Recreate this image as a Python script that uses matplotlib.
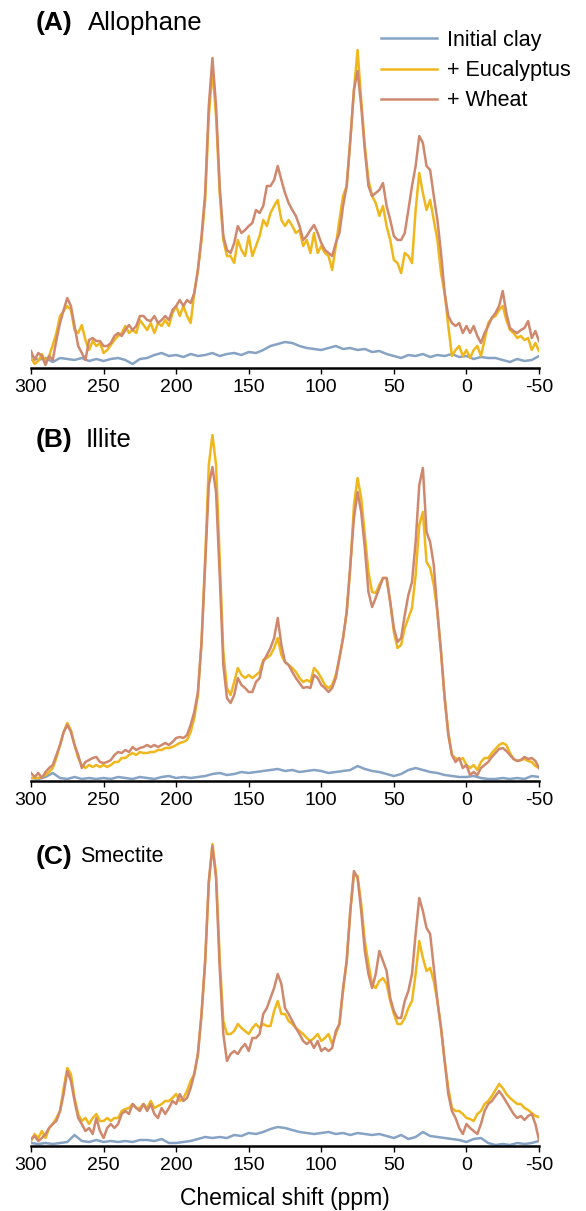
import numpy as np
import matplotlib
matplotlib.use("Agg")
import matplotlib.pyplot as plt

plt.rcParams['font.family'] = ['Liberation Sans', 'DejaVu Sans']

# chemical shift grid (ppm), spectra (arbitrary intensity)
ppm = np.arange(300, -50.1, -2.5)
ppm_clay = np.arange(300, -50.1, -5)

allo_clay = [12, 8, 10, 6, 10, 9, 8, 10, 7, 9,
             7, 9, 10, 8, 4, 9, 10, 13, 15, 12,
             13, 11, 14, 12, 13, 15, 12, 14, 15, 13,
             16, 15, 18, 22, 24, 26, 25, 22, 20, 19,
             18, 20, 22, 19, 20, 18, 19, 16, 17, 14,
             12, 10, 13, 12, 14, 11, 13, 12, 14, 11,
             12, 9, 11, 10, 10, 8, 6, 9, 7, 8,
             12]
allo_euc = [10, 4, 7, 14, 6, 12, 23, 35, 52, 57, 62, 58,
            38, 35, 43, 28, 18, 27, 22, 25, 15, 18, 23, 28,
            32, 35, 42, 35, 38, 35, 48, 43, 38, 45, 35, 45,
            42, 48, 42, 55, 62, 52, 62, 52, 45, 75, 98, 128,
            168, 252, 298, 252, 175, 128, 112, 112, 105, 128, 118, 112,
            132, 112, 122, 132, 148, 142, 155, 162, 168, 148, 142, 148,
            142, 135, 138, 122, 128, 115, 135, 115, 122, 115, 112, 98,
            122, 148, 172, 182, 228, 278, 318, 268, 222, 188, 172, 165,
            152, 162, 142, 128, 108, 105, 95, 115, 112, 105, 158, 195,
            175, 158, 168, 148, 128, 95, 75, 42, 12, 18, 22, 12,
            18, 10, 18, 22, 12, 28, 45, 50, 52, 58, 62, 48,
            38, 35, 30, 32, 28, 30, 18, 25, 17]
allo_wheat = [17, 8, 15, 12, 3, 12, 8, 28, 45, 58, 70, 62,
              42, 22, 15, 8, 28, 30, 27, 27, 22, 22, 25, 32,
              35, 32, 38, 43, 38, 42, 52, 52, 48, 47, 52, 45,
              48, 52, 48, 58, 62, 68, 62, 68, 65, 75, 98, 132,
              175, 262, 310, 262, 182, 132, 118, 115, 125, 142, 135, 138,
              142, 145, 158, 155, 162, 182, 182, 188, 202, 188, 175, 165,
              158, 152, 142, 128, 132, 138, 143, 135, 125, 118, 115, 112,
              125, 135, 162, 182, 228, 278, 297, 262, 218, 182, 172, 175,
              178, 185, 162, 148, 132, 128, 128, 135, 158, 182, 202, 232,
              225, 202, 198, 172, 148, 115, 75, 52, 45, 42, 45, 35,
              42, 35, 42, 32, 25, 35, 42, 50, 55, 62, 77, 55,
              40, 37, 35, 38, 40, 47, 30, 37, 27]

illite_clay = [3, 2, 4, 8, 3, 2, 4, 2, 3, 2,
               3, 2, 4, 3, 2, 4, 3, 2, 4, 5,
               3, 4, 3, 4, 5, 7, 8, 6, 7, 9,
               8, 9, 10, 11, 12, 10, 11, 9, 10, 11,
               10, 8, 9, 10, 11, 15, 12, 10, 9, 7,
               5, 7, 11, 13, 11, 9, 8, 6, 5, 4,
               4, 5, 3, 2, 2, 3, 2, 3, 2, 5,
               4]
illite_euc = [3, 3, 3, 4, 6, 9, 13, 23, 36, 49, 58, 51,
              36, 23, 16, 13, 16, 14, 16, 14, 16, 14, 16, 19,
              19, 23, 23, 26, 28, 26, 29, 28, 28, 29, 29, 31,
              31, 33, 33, 34, 36, 38, 39, 41, 49, 63, 86, 139,
              223, 316, 346, 316, 223, 129, 93, 86, 99, 113, 106, 103,
              106, 103, 106, 109, 121, 123, 126, 133, 143, 126, 119, 116,
              113, 109, 103, 99, 101, 99, 113, 109, 103, 96, 93, 96,
              106, 123, 143, 169, 213, 276, 303, 283, 246, 209, 189, 188,
              196, 203, 203, 179, 149, 133, 136, 153, 163, 173, 206, 256,
              269, 219, 213, 196, 169, 129, 83, 49, 26, 23, 21, 23,
              16, 13, 16, 11, 19, 23, 23, 28, 32, 36, 38, 36,
              28, 22, 20, 21, 22, 20, 19, 15, 13]
illite_wheat = [8, 4, 8, 3, 9, 13, 16, 26, 36, 49, 56, 49,
                36, 26, 13, 19, 21, 23, 24, 19, 18, 19, 21, 26,
                29, 28, 31, 29, 34, 31, 33, 34, 36, 34, 36, 34,
                36, 38, 36, 39, 43, 44, 43, 46, 56, 69, 89, 139,
                216, 296, 314, 289, 206, 116, 83, 78, 86, 103, 96, 93,
                89, 89, 99, 103, 119, 126, 133, 143, 163, 136, 119, 116,
                109, 103, 98, 93, 94, 93, 106, 103, 96, 93, 89, 93,
                103, 123, 143, 169, 216, 263, 289, 269, 233, 189, 174, 183,
                193, 203, 203, 179, 153, 139, 143, 166, 186, 199, 239, 296,
                313, 249, 239, 216, 169, 129, 83, 46, 26, 19, 23, 13,
                16, 6, 9, 6, 13, 16, 19, 24, 28, 32, 33, 30,
                26, 22, 20, 21, 24, 22, 23, 20, 13]

smec_clay = [3, 2, 3, 2, 3, 4, 11, 5, 4, 6,
             4, 5, 4, 5, 4, 6, 6, 5, 7, 3,
             3, 4, 5, 7, 9, 8, 9, 8, 11, 10,
             13, 12, 14, 17, 19, 18, 16, 14, 13, 12,
             13, 14, 12, 13, 11, 13, 12, 11, 12, 10,
             8, 11, 7, 9, 14, 10, 9, 8, 7, 6,
             4, 7, 8, 3, 1, 2, 1, 3, 2, 3,
             5]
smec_euc = [5, 12, 8, 15, 8, 18, 22, 28, 35, 58, 78, 72,
            48, 32, 25, 28, 22, 28, 32, 25, 25, 28, 25, 28,
            28, 35, 37, 38, 42, 38, 38, 42, 38, 45, 38, 40,
            42, 45, 45, 48, 52, 45, 48, 55, 65, 72, 92, 132,
            185, 262, 302, 272, 188, 125, 112, 112, 115, 122, 118, 115,
            112, 118, 122, 118, 122, 120, 120, 135, 145, 132, 132, 125,
            122, 118, 115, 112, 108, 105, 108, 112, 105, 108, 112, 102,
            112, 122, 155, 185, 235, 272, 270, 242, 205, 182, 162, 158,
            165, 168, 162, 145, 132, 122, 122, 128, 138, 145, 172, 205,
            188, 175, 178, 165, 145, 118, 85, 58, 38, 35, 35, 32,
            28, 27, 25, 32, 35, 42, 45, 50, 56, 62, 58, 52,
            48, 45, 42, 42, 38, 36, 33, 30, 29]
smec_wheat = [7, 10, 5, 8, 12, 18, 22, 25, 35, 52, 75, 65,
              45, 28, 22, 15, 18, 12, 28, 15, 8, 18, 22, 18,
              22, 32, 35, 32, 42, 38, 35, 42, 35, 42, 32, 28,
              38, 32, 38, 45, 42, 52, 45, 48, 58, 72, 92, 132,
              185, 265, 300, 268, 178, 112, 85, 92, 95, 92, 98, 102,
              95, 108, 108, 112, 132, 138, 148, 158, 172, 162, 138, 132,
              125, 118, 112, 105, 102, 105, 98, 105, 95, 98, 95, 98,
              115, 122, 158, 185, 235, 275, 268, 235, 195, 172, 158, 172,
              195, 185, 175, 148, 135, 128, 128, 145, 155, 172, 212, 248,
              235, 218, 212, 178, 145, 118, 85, 52, 35, 28, 18, 12,
              22, 18, 15, 12, 22, 35, 42, 45, 50, 55, 50, 44,
              38, 32, 28, 30, 26, 30, 32, 22, 6]

panels = [
    ["(A)", "Allophane", 18.5, allo_clay, allo_euc, allo_wheat],
    ["(B)", "Illite", 18.5, illite_clay, illite_euc, illite_wheat],
    ["(C)", "Smectite", 15.5, smec_clay, smec_euc, smec_wheat],
]
labels = ["Initial clay", "+ Eucalyptus", "+ Wheat"]
colors = ['#87a3c4', '#f0b71c', '#cf886d']

W, H = 586, 1211
# axis baseline (px from top) and plotted height (px) for each panel
bases = [368, 781, 1146]
heights = [330, 360, 320]

fig = plt.figure(figsize=(W / 100, H / 100), dpi=100)
axes = []
for i, p in enumerate(panels):
    ax = fig.add_axes([31 / W, (H - bases[i]) / H, 508 / W, heights[i] / H])
    ax.plot(ppm_clay, p[3], color=colors[0], lw=1.8, label=labels[0])
    ax.plot(ppm, p[4], color=colors[1], lw=1.8, label=labels[1])
    ax.plot(ppm, p[5], color=colors[2], lw=1.8, label=labels[2])
    ax.set_xlim(300, -50)
    ax.set_ylim(0, heights[i])
    for s in ['left', 'right', 'top']:
        ax.spines[s].set_visible(False)
    ax.spines['bottom'].set_linewidth(1.8)
    ax.spines['bottom'].set_color('black')
    ax.set_yticks([])
    ax.set_xticks([300, 250, 200, 150, 100, 50, 0, -50])
    ax.set_xticklabels(['300', '250', '200', '150', '100', '50', '0', '-50'])
    ax.tick_params(axis='x', length=4, width=1, pad=4, labelsize=14)
    axes.append(ax)

# panel titles
title_y = [23, 440, 857]
title_x2 = [88, 86, 80]
for i, p in enumerate(panels):
    fig.text(36 / W, 1 - title_y[i] / H, p[0], fontsize=19, fontweight='bold',
             va='center', ha='left')
    fig.text(title_x2[i] / W, 1 - title_y[i] / H, p[1], fontsize=p[2],
             va='center', ha='left')

axes[0].legend(loc='upper left', bbox_to_anchor=(381 / W, 1 - 30 / H),
               bbox_transform=fig.transFigure, frameon=False, fontsize=15.5,
               handlelength=2.6, handletextpad=0.45, labelspacing=0.42,
               borderpad=0, borderaxespad=0)

fig.text(285 / W, 1 - 1198 / H, "Chemical shift (ppm)", fontsize=16.5,
         ha='center', va='center')

fig.savefig("out.png", dpi=100)
